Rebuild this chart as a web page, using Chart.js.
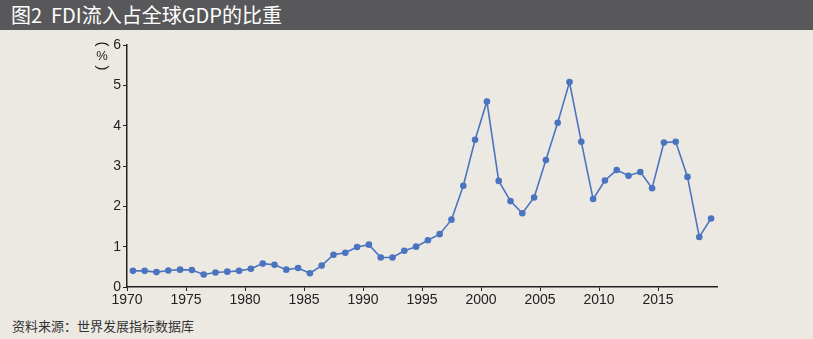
<!DOCTYPE html>
<html>
<head>
<meta charset="utf-8">
<script src="https://cdn.jsdelivr.net/npm/chart.js@4.4.1/dist/chart.umd.min.js"></script>
<style>
  body { margin: 0; background: #ECE9E3; width: 813px; height: 339px; overflow: hidden; }
  #title { height: 30px; background: #58585A; color: #fff; font-family: "Noto Sans CJK SC", sans-serif; font-size: 20px; line-height: 29px; padding-left: 11px; box-sizing: border-box; }
  #wrap { position: relative; width: 813px; height: 280px; }
  #source { position: absolute; left: 12px; top: 316px; font-family: "Noto Sans CJK SC", sans-serif; font-size: 13px; color: #333; }
</style>
</head>
<body>
<div id="title">图2&nbsp; FDI流入占全球GDP的比重</div>
<div id="wrap"><canvas id="canvas" width="813" height="280"></canvas></div>
<div id="source">资料来源：世界发展指标数据库</div>
<script>
var years = [1970,1971,1972,1973,1974,1975,1976,1977,1978,1979,
             1980,1981,1982,1983,1984,1985,1986,1987,1988,1989,
             1990,1991,1992,1993,1994,1995,1996,1997,1998,1999,
             2000,2001,2002,2003,2004,2005,2006,2007,2008,2009,
             2010,2011,2012,2013,2014,2015,2016,2017,2018,2019];
var fdiShare = [0.40,0.40,0.37,0.41,0.43,0.42,0.31,0.36,0.38,0.40,
                0.45,0.58,0.55,0.43,0.47,0.34,0.53,0.80,0.85,0.99,
                1.05,0.73,0.73,0.90,1.00,1.16,1.31,1.67,2.51,3.65,
                4.60,2.63,2.13,1.83,2.22,3.15,4.07,5.08,3.60,2.18,
                2.64,2.90,2.76,2.85,2.45,3.58,3.60,2.73,1.24,1.70];
var xTicks = [1970,1975,1980,1985,1990,1995,2000,2005,2010,2015];
var yTicks = [0,1,2,3,4,5,6];

var points = [];
for (var i = 0; i < years.length; i++) {
  points.push({x: years[i] + 0.5, y: fdiShare[i]});
}

// vertical "(%)" label left of the y axis, parens turned sideways
var yLabel = {
  id: 'yLabel',
  afterDraw: function(chart) {
    var ctx = chart.ctx;
    ctx.save();
    ctx.fillStyle = '#222';
    ctx.textAlign = 'center';
    ctx.textBaseline = 'middle';
    ctx.font = '13px "Liberation Sans"';
    ctx.fillText('%', 102, 26);
    ctx.font = '15px "Liberation Sans"';
    ctx.save();
    ctx.translate(102, 14);
    ctx.rotate(Math.PI / 2);
    ctx.fillText('(', 0, 0);
    ctx.restore();
    ctx.save();
    ctx.translate(102, 38);
    ctx.rotate(Math.PI / 2);
    ctx.fillText(')', 0, 0);
    ctx.restore();
    ctx.restore();
  }
};

var tickFont = { family: 'Liberation Sans', size: 14 };

var ctx = document.getElementById('canvas').getContext('2d');
window.myLine = new Chart(ctx, {
  type: 'line',
  data: {
    datasets: [{
      label: 'FDI',
      data: points,
      borderColor: '#4B74C0',
      backgroundColor: '#4B74C0',
      borderWidth: 1.6,
      pointRadius: 3.3,
      pointBorderWidth: 0,
      tension: 0
    }]
  },
  options: {
    responsive: false,
    animation: false,
    layout: { padding: { left: 0, top: 15, right: 96, bottom: 0 } },
    plugins: { legend: { display: false }, tooltip: { enabled: false } },
    scales: {
      x: {
        type: 'linear',
        min: 1970,
        max: 2020,
        afterBuildTicks: function(scale) {
          scale.ticks = xTicks.map(function(v) { return {value: v}; });
        },
        afterFit: function(scale) { scale.height = 23; },
        grid: { display: true, drawOnChartArea: false, drawTicks: true, tickLength: 4, color: '#222' },
        border: { display: true, color: '#222', width: 1.5 },
        ticks: {
          color: '#222',
          padding: 1,
          maxRotation: 0,
          autoSkip: false,
          font: tickFont,
          callback: function(v) { return String(v); }
        }
      },
      y: {
        min: 0,
        max: 6,
        afterBuildTicks: function(scale) {
          scale.ticks = yTicks.map(function(v) { return {value: v}; });
        },
        afterFit: function(scale) { scale.width = 127; },
        grid: { display: true, drawOnChartArea: false, drawTicks: true, tickLength: 4, color: '#222' },
        border: { display: true, color: '#222', width: 1.5 },
        ticks: {
          color: '#222',
          padding: 2,
          font: tickFont,
          callback: function(v) { return String(v); }
        }
      }
    }
  },
  plugins: [yLabel]
});
</script>
</body>
</html>
